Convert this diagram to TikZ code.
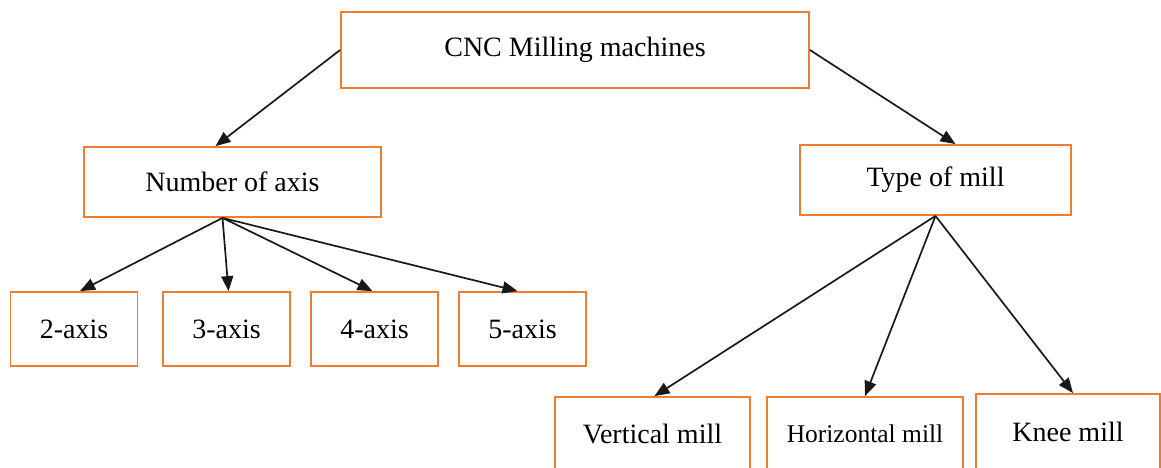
\documentclass[tikz,border=0pt]{standalone}
\usepackage{fontspec}
\setmainfont{Liberation Serif}
\usetikzlibrary{arrows.meta}
\definecolor{boxorange}{RGB}{237,125,49}

\begin{document}
\begin{tikzpicture}[
    x=1pt, y=-1pt,
    every node/.style={font=\fontsize{28}{30}\selectfont},
    catbox/.style={draw=boxorange, line width=1.8pt, inner sep=0pt},
    link/.style={-{Triangle[length=15pt,width=12pt]}, line width=1.7pt, black!90}
]

% Frame
\useasboundingbox (0,0) rectangle (1161,468);
\clip (0,0) rectangle (1161,468);

% Root
\node[catbox, minimum width=468pt, minimum height=76pt] (root) at (575,50) {CNC Milling machines};

% === Second level ===
\node[catbox, minimum width=297pt, minimum height=70pt] (axes) at (232.5,182) {Number of axis};
\node[catbox, minimum width=271pt, minimum height=70pt] (mill) at (935.5,180) {Type of mill};

% === Number of axis children ===
\node[catbox, minimum width=127pt, minimum height=74pt] (ax2) at (74,329) {2-axis};
\node[catbox, minimum width=127pt, minimum height=74pt] (ax3) at (226.5,329) {3-axis};
\node[catbox, minimum width=127pt, minimum height=74pt] (ax4) at (374.5,329) {4-axis};
\node[catbox, minimum width=127pt, minimum height=74pt] (ax5) at (522.5,329) {5-axis};

% === Type of mill children ===
\node[catbox, minimum width=195pt, minimum height=74pt] (vert) at (652.5,434) {Vertical mill};
\node[catbox, minimum width=196pt, minimum height=74pt, font=\fontsize{25.5}{28}\selectfont] (horiz) at (865,434) {Horizontal mill};
\node[catbox, minimum width=184pt, minimum height=76pt] (knee) at (1068,432) {Knee mill};

% Connectors
\draw[link] (root.west) -- ([xshift=-17pt]axes.north);
\draw[link] (root.east) -- ([xshift=20pt]mill.north);

\coordinate (axfoot) at ([xshift=-10pt]axes.south);
\draw[link] (axfoot) -- ([xshift=6pt]ax2.north);
\draw[link] (axfoot) -- ([xshift=2pt]ax3.north);
\draw[link] (axfoot) -- ([xshift=-2pt]ax4.north);
\draw[link] (axfoot) -- ([xshift=-5pt]ax5.north);

\draw[link] (mill.south) -- ([xshift=2pt]vert.north);
\draw[link] (mill.south) -- (horiz.north);
\draw[link] (mill.south) -- ([xshift=5pt]knee.north);

\end{tikzpicture}
\end{document}
